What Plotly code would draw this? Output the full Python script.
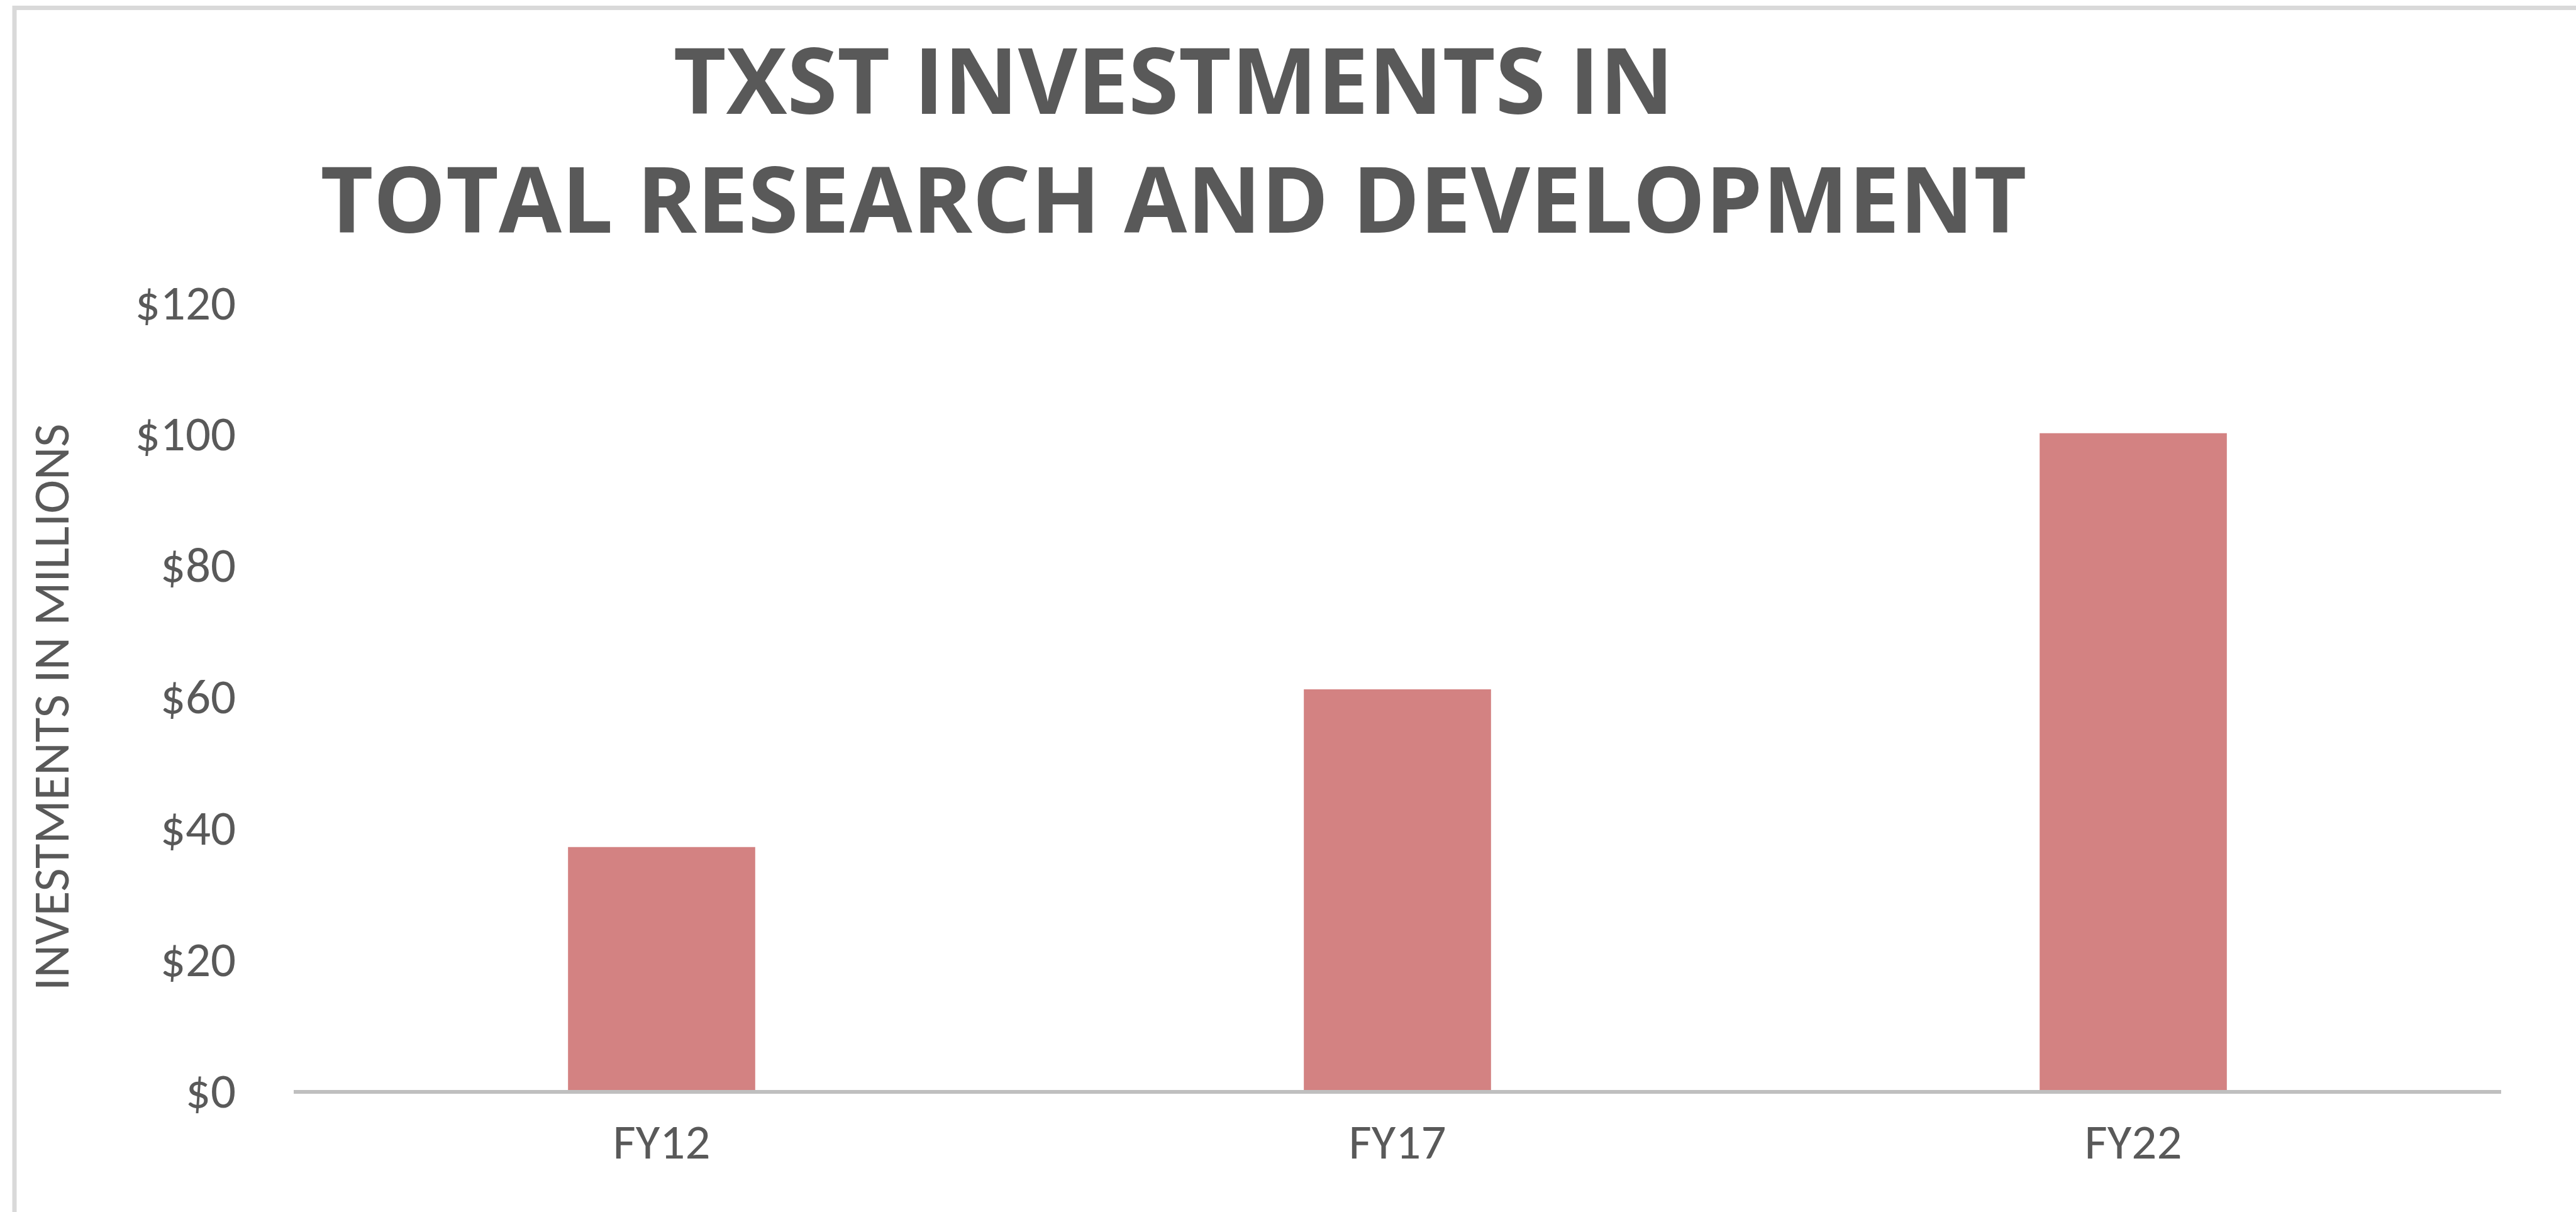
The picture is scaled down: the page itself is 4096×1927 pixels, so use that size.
import plotly.graph_objects as go

categories = ["FY12", "FY17", "FY22"]
investments = [37, 61, 100]
y_ticks = [0, 20, 40, 60, 80, 100, 120]
y_tick_labels = ["$0", "$20", "$40", "$60", "$80", "$100", "$120"]
title_lines = ["TXST INVESTMENTS IN", "TOTAL RESEARCH AND DEVELOPMENT"]
y_title = "INVESTMENTS IN MILLIONS"

W, H = 4096, 1927
L, R, T, B = 467, 119, 480, 194
FONT = "Carlito, Lato, sans-serif"
TFONT = "Open Sans, Carlito, sans-serif"
TXT = "#595959"

fig = go.Figure()
fig.add_trace(go.Bar(
    x=categories, y=investments,
    marker=dict(color="#D38282", line=dict(width=0)),
    hoverinfo="skip",
))

pw = W - L - R
ph = H - T - B

fig.update_layout(
    width=W, height=H,
    margin=dict(l=L, r=R, t=T, b=B, autoexpand=False),
    paper_bgcolor="white", plot_bgcolor="white",
    showlegend=False,
    bargap=0.7456,
    title=dict(
        text="<br>".join(title_lines),
        font=dict(family=TFONT, size=145, color=TXT, weight="bold"),
        x=1866 / W, xref="container", xanchor="center",
        y=1 - 181 / H, yref="container", yanchor="top",
        pad=dict(t=0, b=0, l=0, r=0),
    ),
    xaxis=dict(
        showgrid=False, zeroline=False, ticks="",
        showline=True, linecolor="#BFBFBF", linewidth=6,
        tickfont=dict(family=FONT, size=79, color=TXT),
        ticklabelstandoff=8,
        automargin=False,
    ),
    yaxis=dict(
        range=[0, 120], showgrid=False, zeroline=False, ticks="",
        showline=False,
        tickvals=y_ticks, ticktext=y_tick_labels,
        tickfont=dict(family=FONT, size=79, color=TXT),
        ticklabelstandoff=91,
        automargin=False,
    ),
    annotations=[dict(
        text=y_title, textangle=-90, showarrow=False,
        xref="paper", yref="paper",
        x=(81 - L) / pw, y=(H - B - 1124) / ph,
        xanchor="center", yanchor="middle",
        font=dict(family=FONT, size=81, color=TXT),
    )],
    shapes=[dict(
        type="rect", xref="paper", yref="paper",
        x0=(23 - L) / pw, x1=(W + 60 - L) / pw,
        y0=(H - B - (H + 60)) / ph, y1=(H - B - 12.4) / ph,
        line=dict(color="#D9D9D9", width=7), fillcolor="rgba(0,0,0,0)",
        layer="above",
    )],
)

fig.write_html(
    "out.html",
    config={"displayModeBar": False},
    post_script="document.body.style.margin='0';document.body.style.overflow='hidden';",
)
